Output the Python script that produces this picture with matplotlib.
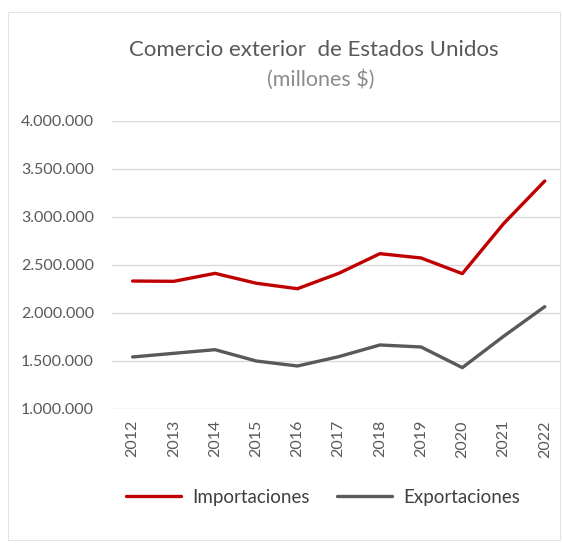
import matplotlib
matplotlib.use("Agg")
import matplotlib.pyplot as plt
from matplotlib.ticker import FuncFormatter
from matplotlib.patches import Rectangle

years = ["2012", "2013", "2014", "2015", "2016", "2017", "2018", "2019", "2020", "2021", "2022"]
importaciones = [2333000, 2330000, 2413000, 2310000, 2253000, 2413000, 2618000, 2573000, 2410000, 2930000, 3375000]
exportaciones = [1542000, 1580000, 1618000, 1500000, 1448000, 1545000, 1667000, 1646000, 1431000, 1757000, 2066000]
y_ticks = [1000000, 1500000, 2000000, 2500000, 3000000, 3500000, 4000000]

RED = "#C00000"
GRAY = "#595959"
TEXT = "#595959"
GRID = "#d9d9d9"

plt.rcParams["font.family"] = ["Lato", "DejaVu Sans"]

W, H = 562, 548
fig = plt.figure(figsize=(W / 100, H / 100), dpi=100, facecolor="white")

# chart frame
fig.patches.append(Rectangle((8 / W, 1 - 540 / H), (552 / W), (528 / H),
                             transform=fig.transFigure, facecolor="none",
                             edgecolor="#e3e3e3", lw=0.8, zorder=-1))

ax = fig.add_axes([112 / W, 1 - 409 / H, (560 - 112) / W, (409 - 121) / H])
ax.set_facecolor("none")
x = list(range(len(years)))
ax.plot(x, importaciones, color=RED, lw=2.4, solid_capstyle="round", label="Importaciones")
ax.plot(x, exportaciones, color=GRAY, lw=2.4, solid_capstyle="round", label="Exportaciones")

ax.set_xlim(-0.5, 10.37)
ax.set_ylim(1000000, 4000000)
ax.set_yticks(y_ticks)
ax.yaxis.set_major_formatter(FuncFormatter(lambda v, p: f"{int(v):,}".replace(",", ".")))
ax.set_xticks(x)
ax.set_xticklabels(years, rotation=90)
ax.tick_params(axis="both", length=0, labelsize=11.5, colors=TEXT)
ax.tick_params(axis="y", pad=13)
ax.tick_params(axis="x", pad=8)
ax.grid(axis="y", color=GRID, lw=1)
ax.set_axisbelow(True)
for s in ax.spines.values():
    s.set_visible(False)

fig.text(314 / W, 1 - 50 / H, "Comercio exterior  de Estados Unidos", ha="center", va="center",
         fontsize=16, color=TEXT)
fig.text(321 / W, 1 - 80 / H, "(millones $)", ha="center", va="center",
         fontsize=15.5, color="#8c8c8c")

fig.legend(loc="center", bbox_to_anchor=(323 / W, 1 - 497 / H), ncol=2, frameon=False,
           fontsize=13.5, handlelength=2.9, columnspacing=1.5, handletextpad=0.6,
           labelcolor="#404040")

fig.savefig("out.png", dpi=100, facecolor="white")
